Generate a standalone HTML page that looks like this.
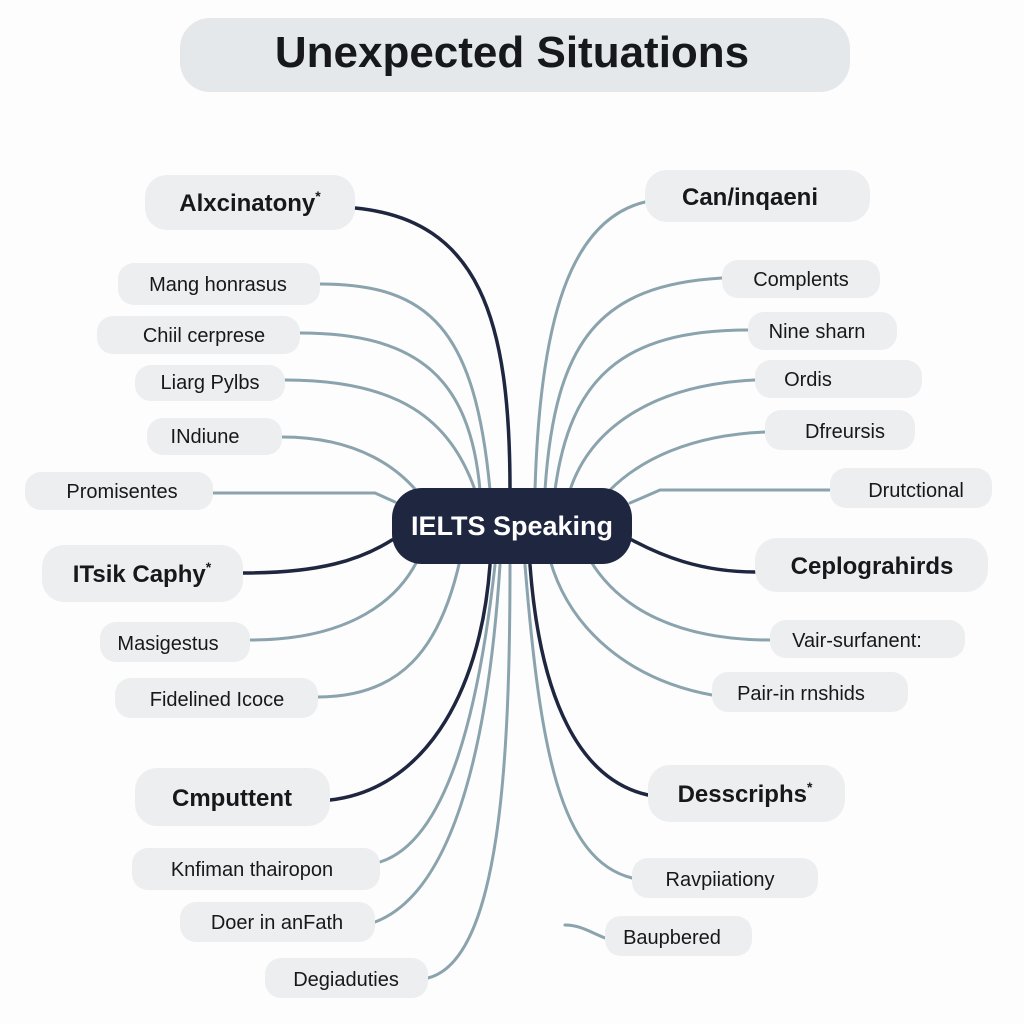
<!DOCTYPE html>
<html><head><meta charset="utf-8"><style>
body{margin:0;background:#fdfdfd;}
svg{display:block}
text{font-family:"Liberation Sans",sans-serif;fill:#16181c;}
</style></head><body>
<svg width="1024" height="1024" viewBox="0 0 1024 1024" xmlns="http://www.w3.org/2000/svg">
<rect width="1024" height="1024" fill="#fdfdfd"/>
<rect x="180" y="18" width="670" height="74" rx="30" fill="#e5e8ea"/>
<text x="512" y="67" font-size="44" font-weight="bold" text-anchor="middle">Unexpected Situations</text>
<g fill="none" stroke="#8aa3ad" stroke-width="3" stroke-linecap="round">
<path d="M320 284 C430 284 475 330 490 490"/>
<path d="M300 333 C420 333 470 380 480 490"/>
<path d="M285 380 C400 380 450 420 475 490"/>
<path d="M282 437 C360 437 400 470 420 495"/>
<path d="M213 493 L375 493 L395 502"/>
<path d="M250 640 C350 640 400 600 420 555"/>
<path d="M318 697 C400 697 440 650 460 560"/>
<path d="M380 862 C450 840 480 700 495 565"/>
<path d="M375 922 C460 890 490 720 500 565"/>
<path d="M428 978 C500 960 510 760 510 565"/>
<path d="M645 202 C570 220 540 320 535 490"/>
<path d="M722 278 C600 285 555 340 545 490"/>
<path d="M748 330 C620 330 570 380 555 490"/>
<path d="M755 380 C650 385 590 430 570 490"/>
<path d="M765 432 C690 435 640 460 610 490"/>
<path d="M830 490 L660 490 L630 503"/>
<path d="M770 640 C680 640 620 610 590 560"/>
<path d="M712 695 C630 680 570 630 550 560"/>
<path d="M632 878 C560 860 540 750 525 565"/>
<path d="M605 938 C590 932 580 925 565 925"/>
</g>
<g fill="none" stroke="#1e2640" stroke-width="3.5" stroke-linecap="round">
<path d="M355 208 C480 220 510 320 510 490"/>
<path d="M243 573 C320 573 360 560 392 540"/>
<path d="M330 800 C420 790 480 700 490 565"/>
<path d="M755 572 C700 572 660 555 632 540"/>
<path d="M648 795 C580 780 540 700 530 565"/>
</g>
<rect x="392" y="488" width="240" height="76" rx="30" fill="#1e2640"/>
<text x="512" y="535" font-size="27" font-weight="bold" text-anchor="middle" style="fill:#fff">IELTS Speaking</text>
<g fill="#eceef0">
<rect x="145" y="175" width="210" height="55" rx="22"/>
<rect x="118" y="263" width="202" height="42" rx="16"/>
<rect x="97" y="316" width="203" height="38" rx="16"/>
<rect x="135" y="365" width="150" height="36" rx="16"/>
<rect x="147" y="418" width="135" height="37" rx="16"/>
<rect x="25" y="472" width="188" height="38" rx="16"/>
<rect x="42" y="545" width="201" height="57" rx="22"/>
<rect x="100" y="622" width="150" height="40" rx="16"/>
<rect x="115" y="678" width="203" height="40" rx="16"/>
<rect x="135" y="768" width="195" height="58" rx="22"/>
<rect x="132" y="848" width="248" height="42" rx="16"/>
<rect x="180" y="902" width="195" height="40" rx="16"/>
<rect x="265" y="958" width="163" height="40" rx="16"/>
<rect x="645" y="170" width="225" height="52" rx="22"/>
<rect x="722" y="260" width="158" height="38" rx="16"/>
<rect x="748" y="312" width="149" height="38" rx="16"/>
<rect x="755" y="360" width="167" height="38" rx="16"/>
<rect x="765" y="410" width="150" height="40" rx="16"/>
<rect x="830" y="468" width="162" height="40" rx="16"/>
<rect x="755" y="538" width="233" height="54" rx="22"/>
<rect x="770" y="620" width="195" height="38" rx="16"/>
<rect x="712" y="672" width="196" height="40" rx="16"/>
<rect x="648" y="765" width="197" height="57" rx="22"/>
<rect x="632" y="858" width="186" height="40" rx="16"/>
<rect x="605" y="916" width="147" height="40" rx="16"/>
</g>
<g font-size="24" font-weight="bold" text-anchor="middle">
<text x="250" y="211">Alxcinatony<tspan font-size="14" dy="-10">*</tspan></text>
<text x="142" y="582">ITsik Caphy<tspan font-size="14" dy="-10">*</tspan></text>
<text x="232" y="806">Cmputtent</text>
<text x="750" y="205">Can/inqaeni</text>
<text x="872" y="574">Ceplograhirds</text>
<text x="745" y="802">Desscriphs<tspan font-size="14" dy="-10">*</tspan></text>
</g>
<g font-size="20" text-anchor="middle">
<text x="218" y="291">Mang honrasus</text>
<text x="204" y="342">Chiil cerprese</text>
<text x="210" y="389">Liarg Pylbs</text>
<text x="205" y="443">INdiune</text>
<text x="122" y="498">Promisentes</text>
<text x="168" y="650">Masigestus</text>
<text x="217" y="706">Fidelined Icoce</text>
<text x="252" y="876">Knfiman thairopon</text>
<text x="277" y="929">Doer in anFath</text>
<text x="346" y="986">Degiaduties</text>
<text x="801" y="286">Complents</text>
<text x="817" y="338">Nine sharn</text>
<text x="808" y="386">Ordis</text>
<text x="845" y="438">Dfreursis</text>
<text x="916" y="497">Drutctional</text>
<text x="857" y="647">Vair-surfanent:</text>
<text x="801" y="700">Pair-in rnshids</text>
<text x="720" y="886">Ravpiiationy</text>
<text x="672" y="944">Baupbered</text>
</g>
</svg>
</body></html>
